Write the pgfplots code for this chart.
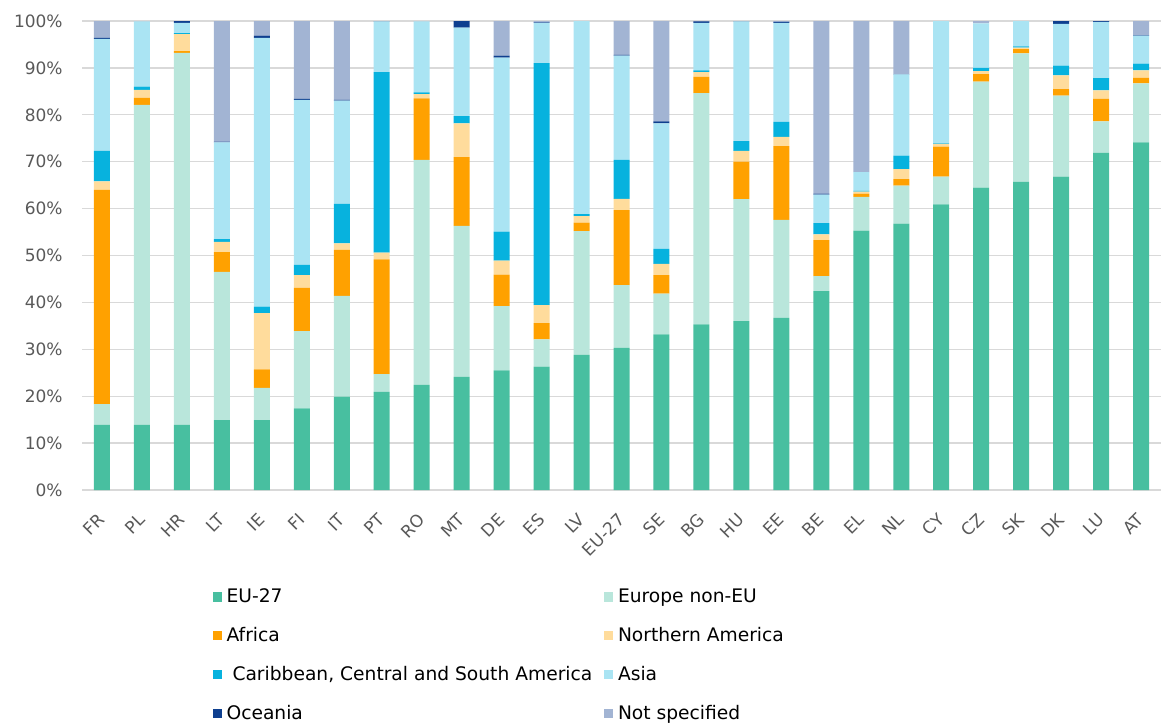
\documentclass[border=0pt]{standalone}
\usepackage{pgfplots}
\pgfplotsset{compat=1.18}
\usepackage{pgfplotstable}
\usepackage{fontspec}
\setmainfont{DejaVu Sans}
\definecolor{cEU}{HTML}{48BFA0}
\definecolor{cENEU}{HTML}{B9E6DB}
\definecolor{cAFR}{HTML}{FFA100}
\definecolor{cNA}{HTML}{FFDC9C}
\definecolor{cCSA}{HTML}{07B2DE}
\definecolor{cASIA}{HTML}{AAE4F3}
\definecolor{cOCE}{HTML}{0E3F8F}
\definecolor{cNS}{HTML}{A2B4D3}
\definecolor{cGrid}{HTML}{D9D9D9}
\definecolor{cTick}{HTML}{595959}

\pgfplotstableread{
x lab eu eneu afr na csa asia oce ns
0 FR 13.9 4.4 45.7 1.8 6.5 23.9 0.2 3.6
1 PL 13.9 68.2 1.5 1.7 0.7 13.9 0.0 0.1
2 HR 13.9 79.3 0.4 3.6 0.2 2.2 0.4 0.0
3 LT 14.9 31.6 4.2 2.2 0.6 20.6 0.2 25.7
4 IE 14.9 6.9 3.9 12.0 1.4 57.3 0.5 3.1
5 FI 17.4 16.5 9.2 2.7 2.2 35.2 0.2 16.6
6 IT 19.9 21.5 9.8 1.4 8.4 22.0 0.2 16.8
7 PT 20.9 3.8 24.5 1.4 38.5 10.8 0.1 0.0
8 RO 22.4 48.0 13.1 0.9 0.4 15.1 0.0 0.1
9 MT 24.1 32.2 14.7 7.2 1.5 18.9 1.4 0.0
10 DE 25.5 13.7 6.7 3.0 6.2 37.1 0.4 7.4
11 ES 26.3 5.8 3.5 3.8 51.6 8.6 0.1 0.3
12 LV 28.8 26.4 1.8 1.4 0.4 41.2 0.0 0.0
13 EU-27 30.3 13.4 16.0 2.4 8.3 22.2 0.2 7.2
14 SE 33.2 8.7 3.9 2.4 3.2 26.8 0.4 21.4
15 BG 35.3 49.3 3.5 1.0 0.4 10.1 0.3 0.1
16 HU 36.0 26.0 8.0 2.3 2.1 25.5 0.1 0.0
17 EE 36.7 20.9 15.7 2.0 3.2 21.1 0.2 0.2
18 BE 42.4 3.2 7.7 1.2 2.4 6.1 0.2 36.8
19 EL 55.3 7.2 0.7 0.4 0.2 4.0 0.0 32.2
20 NL 56.8 8.1 1.4 2.1 2.9 17.3 0.1 11.3
21 CY 60.9 5.9 6.4 0.6 0.1 26.1 0.0 0.0
22 CZ 64.5 22.6 1.6 0.6 0.7 9.5 0.0 0.5
23 SK 65.7 27.4 0.9 0.3 0.3 5.4 0.0 0.0
24 DK 66.8 17.3 1.4 2.9 2.1 8.9 0.6 0.0
25 LU 71.9 6.7 4.8 1.8 2.6 12.0 0.2 0.0
26 AT 74.1 12.6 1.2 1.6 1.4 6.0 0.1 3.0
}\data

\begin{document}
\begin{tikzpicture}
\begin{axis}[
  scale only axis,
  width=809.25pt, height=351.75pt,
  ybar stacked, bar width=0.4,
  xmin=-0.5, xmax=26.5, ymin=0, ymax=100,
  clip=false,
  axis line style={draw=none},
  xtick=data,
  xticklabels from table={\data}{lab},
  xtick style={draw=none}, ytick style={draw=none},
  ytick={0,10,...,100},
  yticklabel={\pgfmathprintnumber{\tick}\%},
  /pgf/number format/assume math mode=true,
  ymajorgrids,
  grid style={cGrid, line width=1pt},
  ticklabel style={font=\fontsize{12.75}{15}\selectfont, text=cTick},
  yticklabel style={xshift=-11pt},
  xticklabel style={rotate=45, anchor=east, inner sep=0pt},
  xticklabel shift=20pt,
  legend columns=2,
  legend cell align=left,
  legend image code/.code={\fill[#1] (0pt,-3.4pt) rectangle (6.8pt,3.4pt);},
  legend style={
    at={(axis description cs:0.121,-0.205)}, anchor=north west,
    draw=none, fill=none, inner sep=0pt,
    font=\fontsize{14}{16}\selectfont,
    row sep=13pt,
    nodes={inner sep=2pt},
    /tikz/every odd column/.append style={column sep=1.5pt},
    /tikz/every even column/.append style={column sep=7pt},
  },
]
\addplot[fill=cEU, draw=none] table[x=x, y=eu] {\data};
\addlegendentry{EU-27}
\addplot[fill=cENEU, draw=none] table[x=x, y=eneu] {\data};
\addlegendentry{Europe non-EU}
\addplot[fill=cAFR, draw=none] table[x=x, y=afr] {\data};
\addlegendentry{Africa}
\addplot[fill=cNA, draw=none] table[x=x, y=na] {\data};
\addlegendentry{Northern America}
\addplot[fill=cCSA, draw=none] table[x=x, y=csa] {\data};
\addlegendentry{\ Caribbean, Central and South America}
\addplot[fill=cASIA, draw=none] table[x=x, y=asia] {\data};
\addlegendentry{Asia}
\addplot[fill=cOCE, draw=none] table[x=x, y=oce] {\data};
\addlegendentry{Oceania}
\addplot[fill=cNS, draw=none] table[x=x, y=ns] {\data};
\addlegendentry{Not specified}
\path (axis description cs:-0.076,-0.4947) (axis description cs:1.0037,1.0448);
\end{axis}
\end{tikzpicture}
\end{document}
